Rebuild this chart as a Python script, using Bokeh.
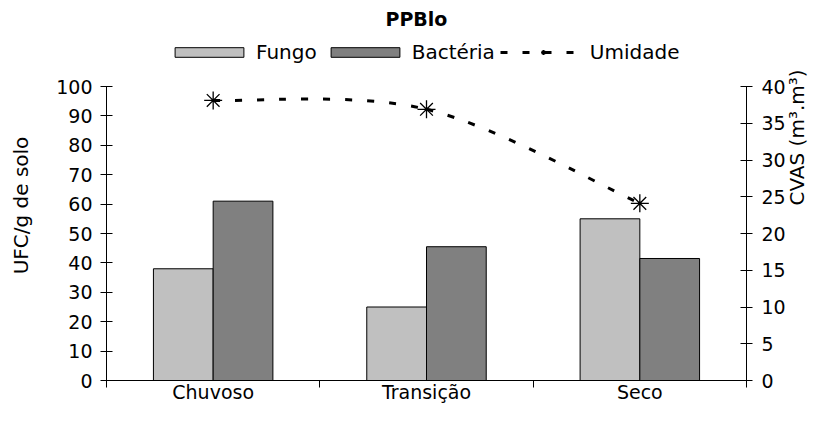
import math
import numpy as np
from bokeh.plotting import figure
from bokeh.models import (Range1d, LinearAxis, FixedTicker, Legend, LegendItem,
                          ColumnDataSource)
from bokeh.embed import file_html
from bokeh.resources import INLINE

# ---- data ----
categorias = ["Chuvoso", "Transição", "Seco"]
fungo = [38, 25, 55]
bacteria = [61, 45.5, 41.5]
umidade = [38.1, 36.9, 24.1]
ticks_ufc = [0, 10, 20, 30, 40, 50, 60, 70, 80, 90, 100]
ticks_cvas = [0, 5, 10, 15, 20, 25, 30, 35, 40]
ufc_max = 100
cvas_max = 40

FONT = "DejaVu Sans"

# layout (pixels): the frame reaches up to the legend; axes are bounded
W, H = 823, 406
B_LEFT, B_RIGHT, B_TOP, B_BOTTOM = 106, 77, 30, 26
AXIS_TOP_PX = 86  # where the top of the value axes sits
frame_h = H - B_TOP - B_BOTTOM
frac = frame_h / (frame_h - (AXIS_TOP_PX - B_TOP))

xc = np.arange(len(categorias)) + 0.5
bar_w = 0.28

p = figure(width=W, height=H, x_range=Range1d(0, len(categorias)),
           y_range=Range1d(0, ufc_max * frac), output_backend="svg",
           toolbar_location=None, min_border_left=B_LEFT,
           min_border_right=B_RIGHT, min_border_top=B_TOP,
           min_border_bottom=B_BOTTOM)
p.extra_y_ranges = {"cvas": Range1d(0, cvas_max * frac)}
p.outline_line_color = None
p.xgrid.visible = False
p.ygrid.visible = False
p.background_fill_color = "white"

# title
p.title.text = "PPBlo"
p.title.align = "left"
p.title.offset = 279
p.title.text_font = FONT
p.title.text_font_size = "19px"
p.title.text_font_style = "bold"
p.title.text_color = "black"
p.title.standoff = 2

src = ColumnDataSource(dict(xf=xc - bar_w / 2, xb=xc + bar_w / 2,
                            fungo=fungo, bacteria=bacteria))
r_f = p.vbar(x="xf", top="fungo", width=bar_w, source=src, fill_color="#C0C0C0",
             line_color="#000000", line_width=1)
r_b = p.vbar(x="xb", top="bacteria", width=bar_w, source=src, fill_color="#808080",
             line_color="#000000", line_width=1)

# smoothed line (Excel-like Catmull-Rom bezier through the data points)
ux = list(xc)
uy = list(umidade)
n = len(ux)
x0s, y0s, x1s, y1s, cx0s, cy0s, cx1s, cy1s = [], [], [], [], [], [], [], []
for i in range(n - 1):
    im1 = max(i - 1, 0)
    ip2 = min(i + 2, n - 1)
    x0s.append(ux[i]); y0s.append(uy[i])
    x1s.append(ux[i + 1]); y1s.append(uy[i + 1])
    cx0s.append(ux[i] + (ux[i + 1] - ux[im1]) / 6)
    cy0s.append(uy[i] + (uy[i + 1] - uy[im1]) / 6)
    cx1s.append(ux[i + 1] - (ux[ip2] - ux[i]) / 6)
    cy1s.append(uy[i + 1] - (uy[ip2] - uy[i]) / 6)
r_l = p.bezier(x0=x0s, y0=y0s, x1=x1s, y1=y1s, cx0=cx0s, cy0=cy0s, cx1=cx1s,
               cy1=cy1s, y_range_name="cvas", line_color="black", line_width=3,
               line_dash="7 15")
r_m = p.scatter(x=ux, y=uy, marker="asterisk", size=18, line_color="black",
                line_width=1.3, y_range_name="cvas")

# axes
def style_axis(ax, fs="19px"):
    ax.axis_line_color = "black"
    ax.major_tick_line_color = "black"
    ax.minor_tick_line_color = None
    ax.major_label_text_font = FONT
    ax.major_label_text_font_size = fs
    ax.major_label_text_color = "black"
    ax.axis_label_text_font = FONT
    ax.axis_label_text_font_size = "20px"
    ax.axis_label_text_font_style = "normal"
    ax.axis_label_text_color = "black"

yl = p.yaxis[0]
style_axis(yl)
yl.ticker = FixedTicker(ticks=ticks_ufc)
yl.bounds = (0, ufc_max)
yl.major_tick_in = 6
yl.major_tick_out = 6
yl.major_label_standoff = 8
yl.axis_label = "UFC/g de solo"
yl.axis_label_standoff = 20

yr = LinearAxis(y_range_name="cvas")
style_axis(yr)
yr.ticker = FixedTicker(ticks=ticks_cvas)
yr.bounds = (0, cvas_max)
yr.major_tick_in = 6
yr.major_tick_out = 6
yr.major_label_standoff = 9
yr.axis_label = "CVAS (m³.m³)"
yr.axis_label_standoff = 8
try:
    yr.axis_label_orientation = math.pi / 2
except Exception:
    pass
p.add_layout(yr, "right")

xa = p.xaxis[0]
style_axis(xa, "19px")
xa.ticker = FixedTicker(ticks=list(xc), minor_ticks=list(range(len(categorias) + 1)))
xa.major_label_overrides = {float(v): c for v, c in zip(xc, categorias)}
xa.major_tick_line_color = None
xa.major_tick_in = 0
xa.major_tick_out = 0
xa.minor_tick_line_color = "black"
xa.minor_tick_in = 0
xa.minor_tick_out = 7
xa.major_label_standoff = -7

legend = Legend(items=[LegendItem(label="Fungo", renderers=[r_f]),
                       LegendItem(label="Bactéria", renderers=[r_b]),
                       LegendItem(label="Umidade", renderers=[r_l, r_m])],
                orientation="horizontal", location=(60, frame_h - 34))
legend.border_line_color = None
legend.background_fill_alpha = 0
legend.padding = 0
legend.margin = 0
legend.spacing = 5
legend.label_standoff = 4
legend.glyph_width = 86
legend.glyph_height = 12
legend.label_text_font = FONT
legend.label_text_font_size = "20px"
legend.label_text_color = "black"
p.add_layout(legend, "center")

open("out.html", "w").write(file_html(p, INLINE))
